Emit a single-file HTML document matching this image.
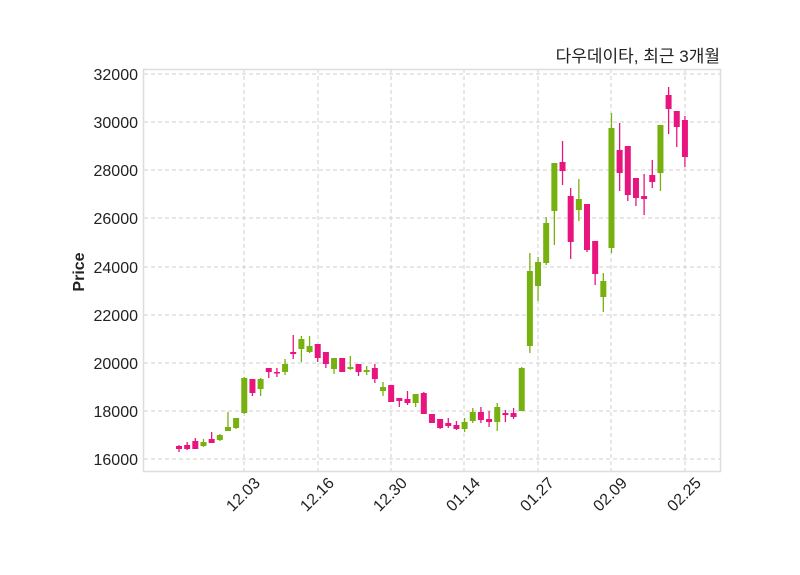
<!DOCTYPE html>
<html><head><meta charset="utf-8"><style>
body{margin:0;background:#fff}
svg{display:block}
text{font-family:"Liberation Sans","Noto Sans CJK KR",sans-serif;fill:#222}
</style></head><body>
<svg id="s" width="800" height="575" viewBox="0 0 800 575">
<rect x="0" y="0" width="800" height="575" fill="#fff"/>
<g stroke="#cfcfcf" stroke-dasharray="4,3" stroke-width="1">
<line x1="144" x2="720" y1="74" y2="74"/><line x1="144" x2="720" y1="122" y2="122"/>
<line x1="144" x2="720" y1="170" y2="170"/><line x1="144" x2="720" y1="218" y2="218"/>
<line x1="144" x2="720" y1="267" y2="267"/><line x1="144" x2="720" y1="315" y2="315"/>
<line x1="144" x2="720" y1="363" y2="363"/><line x1="144" x2="720" y1="411" y2="411"/>
<line x1="144" x2="720" y1="459" y2="459"/>
<line y1="69" y2="471" x1="244" x2="244"/><line y1="69" y2="471" x1="318" x2="318"/>
<line y1="69" y2="471" x1="391" x2="391"/><line y1="69" y2="471" x1="464" x2="464"/>
<line y1="69" y2="471" x1="538" x2="538"/><line y1="69" y2="471" x1="611" x2="611"/>
<line y1="69" y2="471" x1="685" x2="685"/>
</g>
<g id="c"></g>
<rect x="143.5" y="69.5" width="577" height="402" fill="none" stroke="#dddddd" stroke-width="1.5"/>
<g font-size="16" text-anchor="end">
<text x="138" y="80">32000</text><text x="138" y="128">30000</text>
<text x="138" y="176">28000</text><text x="138" y="224">26000</text>
<text x="138" y="273">24000</text><text x="138" y="321">22000</text>
<text x="138" y="369">20000</text><text x="138" y="417">18000</text>
<text x="138" y="465">16000</text>
</g>
<g font-size="16" text-anchor="end">
<text transform="translate(261,484) rotate(-45)">12.03</text>
<text transform="translate(335,484) rotate(-45)">12.16</text>
<text transform="translate(408,484) rotate(-45)">12.30</text>
<text transform="translate(481,484) rotate(-45)">01.14</text>
<text transform="translate(555,484) rotate(-45)">01.27</text>
<text transform="translate(628,484) rotate(-45)">02.09</text>
<text transform="translate(702,484) rotate(-45)">02.25</text>
</g>
<text transform="translate(84,272) rotate(-90)" font-size="16" font-weight="bold" text-anchor="middle">Price</text>
<text x="720" y="62" font-size="17" text-anchor="end">다우데이타, 최근 3개월</text>
</svg>
<script>
var d=[
[446,449,445,452,0],[445,449,442,450,0],[441,449,438,449,0],[442,446,439,447,1],[439,443,432,443,0],
[435,440,434,441,1],[427,431,412,431,1],[418,428,418,429,1],[378,413,377,414,1],[379,393,379,396,0],
[379,389,378,396,1],[368,372,368,378,0],[372,373,368,377,0],[364,372,359,375,1],[352,354,335,359,0],
[339,349,336,362,1],[346,352,336,353,1],[344,358,344,362,0],[352,364,352,368,0],[358,369,358,374,1],
[358,372,358,372,0],[367,369,356,370,1],[364,372,364,376,0],[370,372,366,375,1],[368,379,364,383,0],
[387,391,382,396,1],[385,402,385,402,0],[398,401,398,407,0],[399,403,391,405,0],[394,403,394,407,1],
[393,414,392,414,0],[414,423,414,423,0],[419,428,419,429,0],[423,426,418,428,0],[425,429,421,430,0],
[422,429,418,432,1],[412,421,408,423,1],[412,420,407,423,0],[419,422,411,427,0],[407,422,403,431,1],
[413,415,410,422,0],[413,417,408,419,0],[368,411,367,411,1],[271,346,253,353,1],[262,286,257,301,1],
[223,263,217,265,1],[163,211,163,245,1],[162,171,141,185,0],[196,242,188,259,0],[199,210,179,221,1],
[204,250,204,252,0],[241,274,241,285,0],[281,297,273,312,1],[128,248,113,253,1],[150,173,123,191,0],
[146,195,146,201,0],[178,198,178,206,0],[196,199,174,215,0],[175,182,160,188,0],[125,173,125,191,1],
[95,109,87,134,0],[111,127,111,147,0],[120,157,116,167,0]];
var s='';
d.forEach(function(c,i){var x=179+i*8.16;var col=c[4]?'#77b10f':'#e8157f';
s+='<line x1="'+x+'" x2="'+x+'" y1="'+c[2]+'" y2="'+c[3]+'" stroke="'+col+'" stroke-width="1.3"/>';
var h=Math.max(c[1]-c[0],1.5);
s+='<rect x="'+(x-3)+'" y="'+c[0]+'" width="6" height="'+h+'" fill="'+col+'"/>';});
document.getElementById('c').innerHTML=s;
</script>
</body></html>
